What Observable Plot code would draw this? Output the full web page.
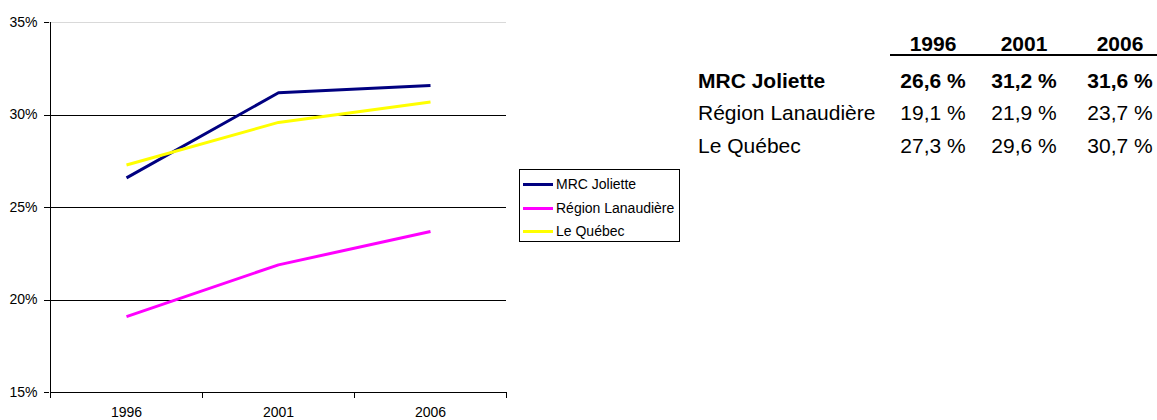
<!DOCTYPE html>
<html>
<head>
<meta charset="utf-8">
<script src="https://cdn.jsdelivr.net/npm/d3@7"></script>
<script src="https://cdn.jsdelivr.net/npm/@observablehq/plot@0.6"></script>
<style>
  html, body { margin: 0; padding: 0; background: #fff; }
  #wrap { position: relative; width: 1157px; height: 420px; font-family: "Liberation Sans", Arial, sans-serif; color: #000; }
  #wrap svg { position: absolute; left: 0; top: 0; }
  .legend { position: absolute; left: 519px; top: 169px; width: 161px; height: 73px; border: 1px solid #000; box-sizing: border-box; background: #fff; }
  .lg-row { position: absolute; left: 3px; height: 16px; font-size: 14px; line-height: 16px; white-space: nowrap; }
  .lg-sw { display: inline-block; width: 30px; height: 3px; vertical-align: middle; margin-right: 3px; position: relative; top: -1px; }
  .cell { position: absolute; font-size: 21px; line-height: 24px; white-space: nowrap; }
  .num { transform: translateX(-50%); }
  .bold { font-weight: bold; }
</style>
</head>
<body>
<div id="wrap"></div>
<script>
const years = ["1996", "2001", "2006"];
const seriesNames = ["MRC Joliette", "Région Lanaudière", "Le Québec"];
const mrcJoliette = [26.6, 31.2, 31.6];
const regionLanaudiere = [19.1, 21.9, 23.7];
const leQuebec = [27.3, 29.6, 30.7];
const yTicks = [15, 20, 25, 30, 35];
const colors = ["#000080", "#FF00FF", "#FFFF00"];

const seriesValues = [mrcJoliette, regionLanaudiere, leQuebec];
const data = [];
seriesNames.forEach((s, i) => years.forEach((y, j) => data.push({series: s, year: y, value: seriesValues[i][j]})));

const W = 1157, H = 420;
const axisFrame = (index, scales, values, dims) => {
  const x = scales.x, y = scales.y;
  const step = x(years[1]) - x(years[0]);
  const g = d3.create("svg:g").attr("stroke", "#000").attr("stroke-width", 1).attr("fill", "none").attr("shape-rendering", "crispEdges");
  const left = Math.round(x(years[0]) - step / 2) + 0.5;
  const bottom = Math.round(y(yTicks[0])) + 0.5;
  g.append("line").attr("x1", left).attr("x2", left).attr("y1", Math.round(y(yTicks[yTicks.length - 1]))).attr("y2", bottom);
  g.append("line").attr("x1", left).attr("x2", Math.round(x(years[years.length - 1]) + step / 2) + 0.5).attr("y1", bottom).attr("y2", bottom);
  const bounds = years.map(d => x(d) - step / 2).concat([x(years[years.length - 1]) + step / 2]);
  bounds.forEach(b => {
    const bx = Math.round(b) + 0.5;
    g.append("line").attr("x1", bx).attr("x2", bx).attr("y1", bottom).attr("y2", bottom + 5);
  });
  return g.node();
};

const chart = Plot.plot({
  width: W,
  height: H,
  marginLeft: 49,
  marginRight: W - 506,
  marginTop: 22,
  marginBottom: 28,
  style: {fontFamily: "'Liberation Sans', Arial, sans-serif", fontSize: "14px", color: "#000", background: "transparent"},
  x: {type: "point", domain: years, padding: 0.5},
  y: {domain: [15, 35]},
  color: {domain: seriesNames, range: colors},
  marks: [
    Plot.ruleY([35], {stroke: "#d9d9d9", shapeRendering: "crispEdges"}),
    Plot.ruleY([20, 25, 30], {stroke: "#000", shapeRendering: "crispEdges"}),
    Plot.axisY({ticks: yTicks, tickFormat: d => d + "%", tickSize: 5, tickPadding: 7, fontSize: 14, label: null, stroke: "#000", color: "#000", shapeRendering: "crispEdges"}),
    Plot.axisX({tickSize: 0, tickPadding: 15, fontSize: 14, label: null}),
    axisFrame,
    Plot.line(data, {x: "year", y: "value", z: "series", stroke: "series", strokeWidth: 3, strokeLinecap: "butt"})
  ]
});

const wrap = document.getElementById("wrap");
wrap.appendChild(chart);

// Legend
const legend = document.createElement("div");
legend.className = "legend";
const rowTops = [6, 30, 53];
seriesNames.forEach((s, i) => {
  const row = document.createElement("div");
  row.className = "lg-row";
  row.style.top = rowTops[i] + "px";
  const sw = document.createElement("span");
  sw.className = "lg-sw";
  sw.style.background = colors[i];
  row.appendChild(sw);
  row.appendChild(document.createTextNode(s));
  legend.appendChild(row);
});
wrap.appendChild(legend);

// Table
const colX = [933, 1024, 1120];
const headerY = 43.5;
const rowY = [80.5, 113, 145.5];
const fmt = v => v.toFixed(1).replace(".", ",") + " %";
function cell(text, x, cy, cls) {
  const d = document.createElement("div");
  d.className = "cell " + cls;
  d.style.left = x + "px";
  d.style.top = (cy - 12) + "px";
  d.textContent = text;
  wrap.appendChild(d);
}
years.forEach((y, j) => cell(y, colX[j], headerY, "num bold"));
const ul = document.createElement("div");
ul.style.cssText = "position:absolute;left:890px;top:54px;width:267px;height:2px;background:#000;";
wrap.appendChild(ul);
seriesNames.forEach((s, i) => {
  const b = i === 0 ? " bold" : "";
  cell(s, 698, rowY[i], b);
  seriesValues[i].forEach((v, j) => cell(fmt(v), colX[j], rowY[i], "num" + b));
});
</script>
</body>
</html>
